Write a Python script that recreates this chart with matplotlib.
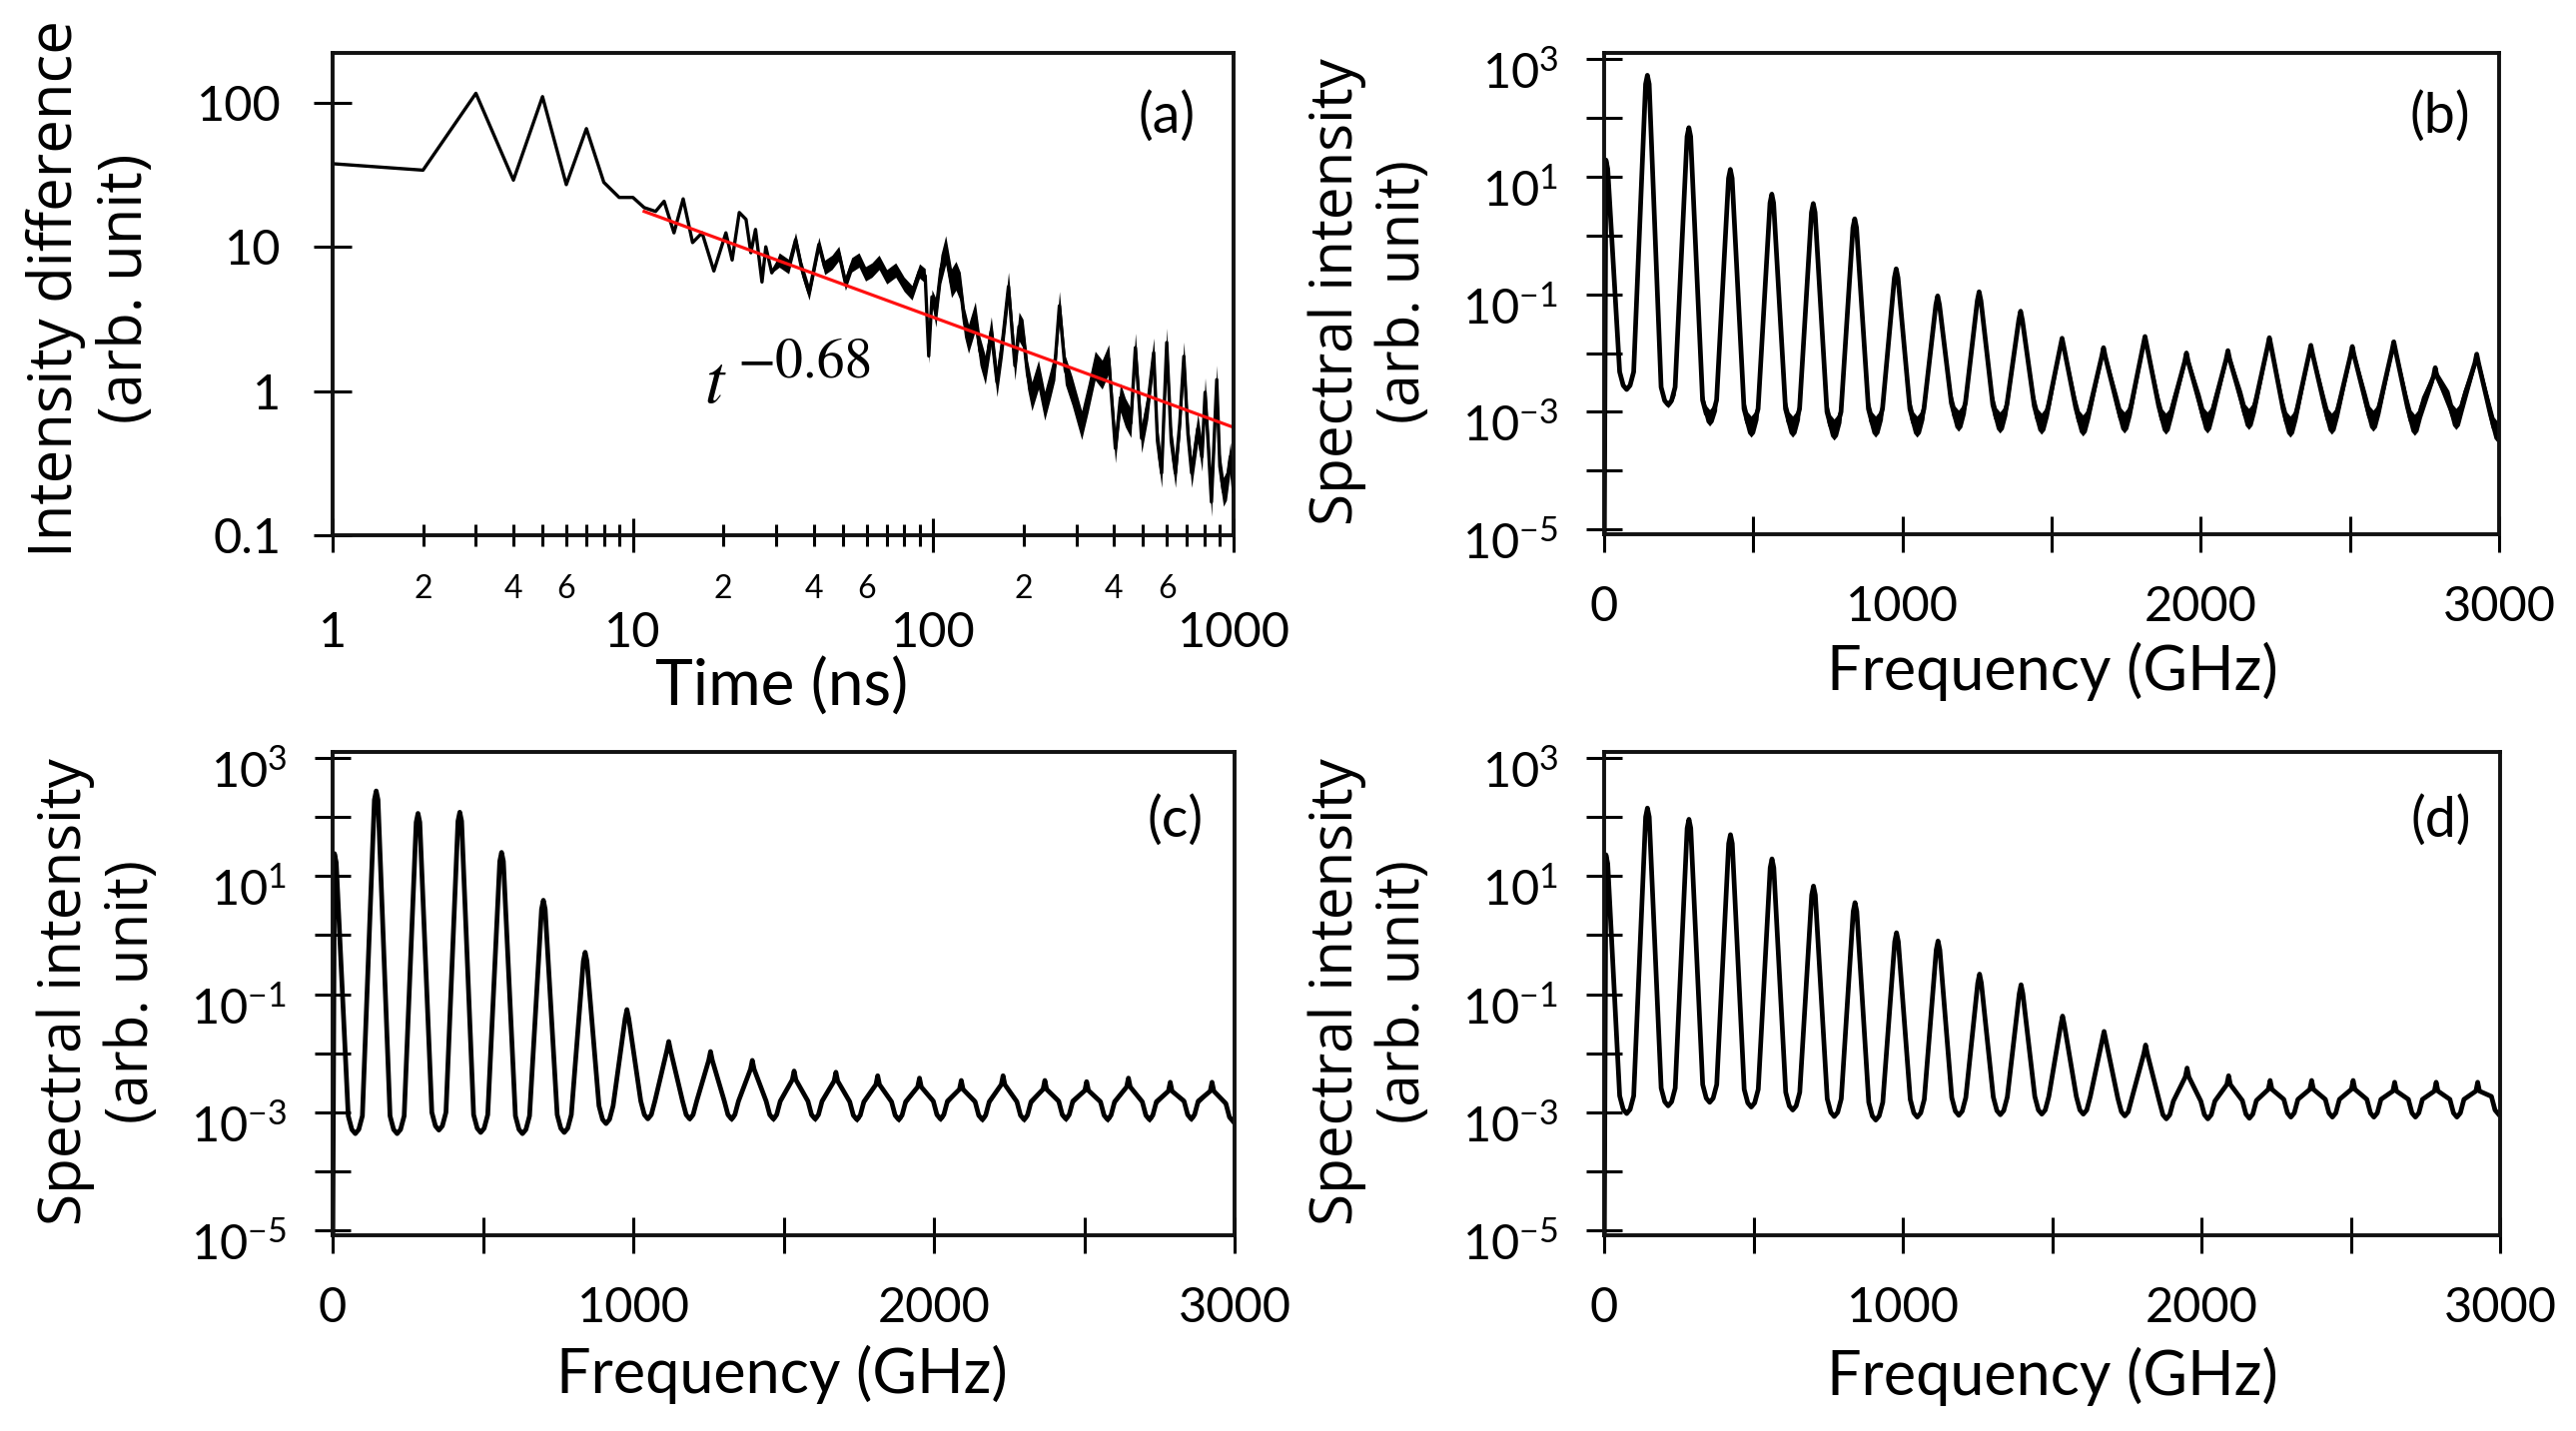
import matplotlib
matplotlib.use('Agg')
import matplotlib.pyplot as plt
from matplotlib import ticker
from matplotlib.transforms import ScaledTranslation
import numpy as np

W, H = 2579, 1433

# ---------------- panel (a): intensity difference vs time
t_a = [1, 2, 3, 4, 5, 6, 7, 8, 9, 10, 10.9, 11.9, 12.7, 13.7, 14.7, 15.8, 17, 18.6,
       20.4, 21.4, 22.6, 23.8, 24.7, 25.6, 26.9, 27.7, 29, 30.7, 33, 34.8, 36.5, 38.6,
       41.6, 43.5, 46, 48.5, 51, 53.5, 56.6, 59.5, 62.5, 66, 70, 75, 80, 85, 90, 94,
       96.6, 99, 102, 106, 110, 115, 119, 123, 127, 131, 138, 143, 149, 156, 163, 170,
       178, 187, 193, 199, 206, 213, 224, 235, 245, 254, 263, 275, 290, 312, 328, 346,
       365, 384, 404, 420, 436, 455, 471, 494, 518, 542, 558, 576, 599, 620, 640, 662,
       683, 705, 725, 760, 785, 804, 825, 844, 879, 900, 925, 947, 975, 1000]
i_a = [37.7, 34, 116, 29, 110, 27, 66, 28, 22, 22, 18.7, 17.6, 20.7, 12.5, 21.5, 10.7, 12.5, 6.8,
       12.5, 8.1, 17.3, 15.5, 9.1, 13.2, 5.7, 10, 6.6, 8.1, 7.3, 11.2, 7.0, 4.8,
       10.4, 7.2, 7.8, 9.0, 5.6, 7.5, 8.1, 6.5, 6.9, 7.8, 6.2, 6.9, 5.5, 4.8, 6.8, 6.3,
       1.75, 4.5, 3.5, 7.0, 9.5, 5.6, 6.3, 5.3, 3.0, 2.3, 3.3, 1.9, 1.4, 2.6, 1.15, 2.2,
       5.3, 1.5, 2.8, 2.5, 1.3, 0.92, 1.3, 0.79, 1.1, 1.5, 3.9, 1.4, 1.0, 0.58, 0.9, 1.5,
       1.3, 1.67, 0.40, 0.9, 0.71, 0.6, 2.0, 0.47, 0.8, 1.85, 0.45, 0.27, 2.17, 0.45, 0.27, 0.6,
       1.74, 0.5, 0.27, 0.55, 0.35, 0.98, 0.4, 0.17, 1.2, 0.3, 0.2, 0.22, 0.35, 0.2]
# half-thickness (decades) of the noisy band: none before 30 ns, thin to 100 ns, thick after
a_band_mid, a_band_late = 0.05, 0.10
fit_t = [10.9, 1000]   # red power-law guide
fit_i = [17.6, 0.56]

# ---------------- panels (b)-(d): mode comb, log10 of peak tops and valley floors
peak_freq = [6, 145, 284, 423, 562, 701, 840, 979, 1118, 1257, 1396, 1535, 1674,
             1813, 1952, 2091, 2230, 2369, 2508, 2647, 2786, 2925]

b_peak = [1.28, 2.72, 1.83, 1.12, 0.70, 0.54, 0.28, -0.57, -1.03, -0.96, -1.29,
          -1.75, -1.91, -1.72, -2.0, -1.96, -1.74, -1.87, -1.89, -1.81, -2.25, -2.02]
b_valley = [-2.62, -2.88, -3.1, -3.25, -3.25, -3.3, -3.25, -3.25, -3.15, -3.18, -3.2,
            -3.23, -3.18, -3.2, -3.18, -3.12, -3.25, -3.2, -3.15, -3.22, -3.12, -3.34]
b_noise = [0.02, 0.05, 0.14, 0.18, 0.18, 0.18, 0.18, 0.18, 0.18, 0.18, 0.18,
           0.18, 0.18, 0.18, 0.18, 0.18, 0.18, 0.18, 0.18, 0.18, 0.18, 0.18]

c_peak = [1.38, 2.44, 2.06, 2.08, 1.40, 0.59, -0.29, -1.26, -1.80, -1.97, -2.12,
          -2.30, -2.32, -2.38, -2.42, -2.46, -2.38, -2.46, -2.48, -2.42, -2.49, -2.49]
c_valley = [-3.36, -3.36, -3.30, -3.34, -3.36, -3.34, -3.19, -3.11, -3.11, -3.11, -3.11,
            -3.11, -3.12, -3.12, -3.11, -3.12, -3.12, -3.11, -3.12, -3.12, -3.11, -3.15]
c_noise = [0, 0, 0, 0, 0, 0, 0, 0.02, 0.04, 0.05, 0.05,
           0.05, 0.05, 0.05, 0.05, 0.05, 0.05, 0.05, 0.05, 0.05, 0.05, 0.05]

d_peak = [1.36, 2.15, 1.96, 1.70, 1.29, 0.83, 0.55, 0.04, -0.10, -0.66, -0.84,
          -1.37, -1.63, -1.86, -2.25, -2.38, -2.46, -2.46, -2.46, -2.49, -2.49, -2.49]
d_valley = [-3.02, -2.89, -2.83, -2.91, -2.96, -3.07, -3.13, -3.08, -3.05, -3.04, -3.03,
            -3.03, -3.06, -3.11, -3.11, -3.10, -3.08, -3.08, -3.08, -3.08, -3.08, -3.03]
d_noise = [0.0] * 22

# line shape of one mode, read from the close-ups (GHz from the peak, decades)
TIP_OFF, TIP_DROP = 6.0, 0.15
KNEE_OFF, KNEE_RISE = 46.0, 0.30
FOOT_OFF, FOOT_RISE = 58.0, 0.07
HALF = 69.5


def comb(peaks, valleys, noise):
    f, y, nz = [0.0], [-6.0], [noise[0]]
    for k, (fp, p, v) in enumerate(zip(peak_freq, peaks, valleys)):
        if k > 0:
            vp = valleys[k - 1]
            f += [fp - FOOT_OFF, fp - KNEE_OFF, fp - TIP_OFF]
            y += [vp + FOOT_RISE, min(vp + KNEE_RISE, p - 0.2), p - TIP_DROP]
            nz += [noise[k - 1], noise[k], noise[k] * 0.5]
        f += [fp, fp + TIP_OFF, fp + KNEE_OFF, fp + FOOT_OFF, min(fp + HALF, 3000)]
        y += [p, p - TIP_DROP, min(v + KNEE_RISE, p - 0.2), v + FOOT_RISE, v]
        nz += [noise[k] * 0.3, noise[k] * 0.5, noise[k], noise[k], noise[k]]
    return np.array(f), 10 ** np.array(y), 10 ** np.array(nz)


plt.rcParams['font.family'] = ['Lato', 'DejaVu Sans']
plt.rcParams['mathtext.fontset'] = 'stix'
plt.rcParams['mathtext.default'] = 'regular'

fig = plt.figure(figsize=(W / 100, H / 100), dpi=100)


def box(left, top, right, bottom):
    return [left / W, 1 - bottom / H, (right - left) / W, (bottom - top) / H]


def fx(x):
    return x / W


def fy(y):
    return 1 - y / H


def frame(ax):
    for s in ax.spines.values():
        s.set_linewidth(2.8)
        s.set_color('#111111')


# ---- (a)
ax = fig.add_axes(box(333, 53, 1235, 536))
frame(ax)
ax.set_xscale('log')
ax.set_yscale('log')
ax.set_xlim(1, 1000)
ax.set_ylim(0.1, 221)
ta = np.array(t_a)
ia = np.array(i_a)
band = 10 ** np.where(ta >= 100, a_band_late, np.where(ta >= 30, a_band_mid, 0.0))
ax.fill_between(ta, ia / band, ia * band, color='k', lw=0)
ax.plot(ta, ia, color='k', lw=2.4)
ax.plot(fit_t, fit_i, color='#ff1010', lw=2.3)
ax.yaxis.set_major_locator(ticker.FixedLocator([0.1, 1, 10, 100]))
ax.yaxis.set_major_formatter(ticker.FixedFormatter(['0.1', '1', '10', '100']))
ax.yaxis.set_minor_locator(ticker.NullLocator())
ax.xaxis.set_major_locator(ticker.FixedLocator([1, 10, 100, 1000]))
ax.xaxis.set_major_formatter(ticker.FixedFormatter(['1', '10', '100', '1000']))
minor = [m * d for d in (1, 10, 100) for m in range(2, 10)]
ax.xaxis.set_minor_locator(ticker.FixedLocator(minor))
ax.xaxis.set_minor_formatter(ticker.FixedFormatter(
    [str(m) if m in (2, 4, 6) else '' for d in (1, 10, 100) for m in range(2, 10)]))
ax.tick_params(axis='y', direction='inout', length=28, width=2.2, labelsize=35, pad=23)
ax.tick_params(axis='x', which='major', direction='inout', length=25, width=2.2,
               labelsize=35, pad=42)
ax.tick_params(axis='x', which='minor', direction='inout', length=16, width=2.2,
               labelsize=23, pad=20)
ax.text(0.958, 0.867, '(a)', transform=ax.transAxes, ha='right', va='center', fontsize=40)
fig.text(fx(705), fy(403), r'$\mathit{t}$', fontsize=50, ha='left', va='baseline')
fig.text(fx(738), fy(377), '\u22120.68', family='STIXGeneral', fontsize=40,
         ha='left', va='baseline')
fig.text(fx(91), fy(289), 'Intensity difference\n(arb. unit)', rotation=90,
         ha='center', va='center', family='Open Sans', fontsize=43, linespacing=1.2)
fig.text(fx(783), fy(688), 'Time (ns)', ha='center', va='center', fontsize=46)

# ---- (b)-(d)
panels = [('(b)', (1606, 53, 2502, 535), b_peak, b_valley, b_noise, (0.968, 0.868),
           (1372, 292), (2055, 672)),
          ('(c)', (333, 753, 1236, 1237), c_peak, c_valley, c_noise, (0.965, 0.857),
           (99, 993), (783, 1376)),
          ('(d)', (1606, 753, 2503, 1237), d_peak, d_valley, d_noise, (0.968, 0.857),
           (1372, 993), (2055, 1378))]


def ylab(v, pos):
    e = int(round(np.log10(v)))
    return r'$\mathregular{10^{%d}}$' % e if e % 2 else ''


shift_down = ScaledTranslation(0, -0.10, fig.dpi_scale_trans)

for tag, rect, pk, vl, nz, tagpos, ylpos, xlpos in panels:
    ax = fig.add_axes(box(*rect))
    frame(ax)
    f, y, n = comb(pk, vl, nz)
    ax.fill_between(f, y / n, y * n, color='k', lw=0)
    ax.plot(f, y, color='k', lw=3.4)
    ax.set_yscale('log')
    ax.set_xlim(0, 3000)
    ax.set_ylim(10 ** -5.08, 10 ** 3.1)
    ax.yaxis.set_major_locator(ticker.FixedLocator([10.0 ** e for e in range(-5, 4)]))
    ax.yaxis.set_minor_locator(ticker.NullLocator())
    ax.yaxis.set_major_formatter(ticker.FuncFormatter(ylab))
    ax.xaxis.set_major_locator(ticker.MultipleLocator(500))
    ax.xaxis.set_major_formatter(ticker.FuncFormatter(
        lambda v, p: '%d' % v if round(v) % 1000 == 0 else ''))
    ax.tick_params(axis='y', direction='inout', length=26, width=2.2, labelsize=35, pad=20)
    ax.tick_params(axis='x', direction='inout', length=26, width=2.2, labelsize=35, pad=24)
    for lab in ax.get_yticklabels():
        lab.set_transform(lab.get_transform() + shift_down)
    ax.text(tagpos[0], tagpos[1], tag, transform=ax.transAxes, ha='right', va='center',
            fontsize=40)
    fig.text(fx(ylpos[0]), fy(ylpos[1]), 'Spectral intensity\n(arb. unit)', rotation=90,
             ha='center', va='center', family='Open Sans', fontsize=42, linespacing=1.2)
    fig.text(fx(xlpos[0]), fy(xlpos[1]), 'Frequency (GHz)', ha='center', va='center',
             fontsize=44)

fig.savefig('out.png', dpi=100)
